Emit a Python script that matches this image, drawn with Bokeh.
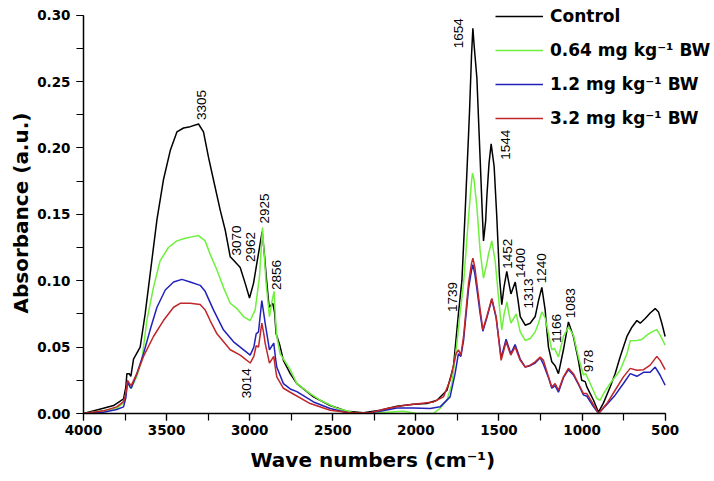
from math import pi
from bokeh.plotting import figure
from bokeh.models import Range1d, NumeralTickFormatter, FixedTicker, Legend, LegendItem, Title
from bokeh.core.properties import value
from bokeh.embed import file_html
from bokeh.resources import INLINE

# ---------------- data ----------------
control_wn = [4000, 3880, 3819, 3759, 3745, 3739, 3725, 3715, 3699, 3659, 3629, 3599, 3558, 3519,
              3478, 3438, 3398, 3358, 3308, 3278, 3248, 3218, 3177, 3147, 3117, 3087, 3057, 3027,
              3001, 2977, 2957, 2937, 2925, 2910, 2901, 2883, 2861, 2850, 2841, 2820, 2797, 2756,
              2716, 2616, 2516, 2415, 2315, 2215, 2114, 2014, 1934, 1873, 1813, 1774, 1744, 1723,
              1703, 1683, 1677, 1665, 1657, 1648, 1633, 1613, 1600, 1593, 1580, 1573, 1560, 1547,
              1529, 1513, 1497, 1483, 1470, 1453, 1440, 1428, 1402, 1385, 1372, 1342, 1312, 1282,
              1262, 1242, 1222, 1212, 1202, 1182, 1162, 1142, 1112, 1082, 1052, 1022, 1002, 981,
              971, 951, 931, 901, 871, 831, 801, 771, 730, 700, 670, 650, 620, 590, 560, 540, 520, 500]
control_abs = [0.000, 0.004, 0.006, 0.011, 0.020, 0.030, 0.030, 0.028, 0.041, 0.050, 0.075, 0.105, 0.146, 0.176,
               0.198, 0.212, 0.215, 0.216, 0.218, 0.212, 0.193, 0.176, 0.153, 0.138, 0.118, 0.114, 0.110, 0.098,
               0.087, 0.098, 0.113, 0.128, 0.137, 0.118, 0.104, 0.080, 0.083, 0.076, 0.060, 0.052, 0.040, 0.030,
               0.0225, 0.0125, 0.006, 0.0017, 0.0005, 0.0025, 0.0055, 0.007, 0.0075, 0.010, 0.0175, 0.035, 0.075, 0.100,
               0.153, 0.210, 0.228, 0.270, 0.290, 0.275, 0.253, 0.191, 0.150, 0.130, 0.145, 0.163, 0.188, 0.203,
               0.186, 0.148, 0.103, 0.082, 0.095, 0.107, 0.098, 0.090, 0.099, 0.085, 0.073, 0.0665, 0.068, 0.073,
               0.085, 0.095, 0.078, 0.063, 0.050, 0.039, 0.036, 0.030, 0.048, 0.069, 0.058, 0.040, 0.025, 0.024,
               0.020, 0.015, 0.010, 0.001, 0.008, 0.020, 0.030, 0.0425, 0.058, 0.065, 0.070, 0.068, 0.0715, 0.0757, 0.079, 0.0765, 0.068, 0.058]

low_wn = [4000, 3880, 3800, 3759, 3745, 3735, 3720, 3713, 3679, 3649, 3619, 3579, 3539, 3489,
          3438, 3388, 3348, 3308, 3268, 3238, 3197, 3158, 3117, 3077, 3037, 2997, 2967, 2941,
          2923, 2910, 2901, 2881, 2865, 2853, 2845, 2837, 2817, 2756, 2716, 2636, 2576, 2475,
          2375, 2275, 2174, 2074, 1994, 1894, 1854, 1813, 1783, 1753, 1737, 1713, 1683, 1665,
          1659, 1650, 1633, 1613, 1593, 1573, 1563, 1543, 1523, 1497, 1483, 1469, 1452, 1440,
          1428, 1396, 1372, 1342, 1312, 1282, 1262, 1242, 1222, 1212, 1182, 1166, 1142, 1112,
          1082, 1052, 1022, 992, 978, 951, 911, 891, 871, 831, 771, 730, 710, 670, 640, 610,
          580, 550, 530, 500]
low_abs = [0.000, 0.002, 0.004, 0.008, 0.015, 0.023, 0.020, 0.019, 0.028, 0.040, 0.070, 0.095, 0.115, 0.125,
           0.130, 0.132, 0.133, 0.134, 0.130, 0.120, 0.108, 0.095, 0.083, 0.079, 0.073, 0.070, 0.078, 0.103,
           0.140, 0.115, 0.098, 0.073, 0.085, 0.092, 0.072, 0.058, 0.045, 0.033, 0.0225, 0.015, 0.010, 0.004,
           0.0005, 0.000, 0.001, 0.0017, 0.000, 0.000, 0.004, 0.010, 0.0225, 0.053, 0.072, 0.098, 0.148, 0.175,
           0.181, 0.176, 0.156, 0.122, 0.102, 0.113, 0.120, 0.130, 0.115, 0.080, 0.063, 0.075, 0.084, 0.075,
           0.068, 0.075, 0.0615, 0.055, 0.0565, 0.0615, 0.068, 0.0765, 0.072, 0.066, 0.048, 0.049, 0.0426, 0.058,
           0.065, 0.059, 0.0426, 0.029, 0.030, 0.0226, 0.0113, 0.010, 0.015, 0.0226, 0.0326, 0.045, 0.0547, 0.055, 0.0557, 0.059,
           0.0615, 0.0632, 0.059, 0.0514]

mid_wn = [4000, 3880, 3800, 3759, 3745, 3735, 3720, 3713, 3679, 3639, 3599, 3558, 3508, 3458,
          3408, 3358, 3298, 3268, 3218, 3158, 3097, 3057, 2997, 2975, 2961, 2947, 2927, 2915,
          2907, 2881, 2855, 2845, 2837, 2797, 2756, 2716, 2616, 2516, 2415, 2315, 2215, 2114,
          2014, 1914, 1854, 1794, 1764, 1744, 1729, 1713, 1683, 1665, 1657, 1645, 1633, 1613,
          1597, 1573, 1543, 1517, 1487, 1457, 1429, 1403, 1372, 1342, 1312, 1282, 1252, 1232,
          1202, 1182, 1162, 1142, 1112, 1082, 1052, 1022, 992, 971, 941, 901, 851, 801, 751,
          710, 670, 630, 590, 560, 530, 500]
mid_abs = [0.000, 0.001, 0.003, 0.005, 0.012, 0.024, 0.020, 0.019, 0.030, 0.045, 0.063, 0.080, 0.093, 0.099,
           0.101, 0.099, 0.0965, 0.092, 0.078, 0.063, 0.054, 0.050, 0.044, 0.050, 0.060, 0.0615, 0.085, 0.075,
           0.068, 0.048, 0.053, 0.042, 0.035, 0.0225, 0.0185, 0.0165, 0.0087, 0.0038, 0.0008, 0.000, 0.0017, 0.0042,
           0.0042, 0.0038, 0.005, 0.0125, 0.030, 0.045, 0.043, 0.055, 0.094, 0.108, 0.112, 0.105, 0.094, 0.075,
           0.062, 0.072, 0.086, 0.072, 0.042, 0.056, 0.045, 0.052, 0.041, 0.035, 0.036, 0.038, 0.042, 0.037,
           0.027, 0.019, 0.021, 0.016, 0.027, 0.033, 0.029, 0.022, 0.014, 0.013, 0.007, 0.000, 0.0067, 0.0138, 0.0226,
           0.030, 0.028, 0.031, 0.031, 0.035, 0.0288, 0.0213]

high_wn = [4000, 3880, 3800, 3759, 3745, 3735, 3720, 3713, 3679, 3639, 3579, 3519, 3458, 3418,
           3358, 3298, 3268, 3238, 3197, 3117, 3057, 2997, 2975, 2961, 2947, 2927, 2915, 2907,
           2881, 2855, 2845, 2837, 2797, 2756, 2636, 2516, 2395, 2275, 2174, 2074, 1974, 1894,
           1834, 1794, 1758, 1744, 1729, 1713, 1683, 1665, 1657, 1645, 1633, 1613, 1597, 1573,
           1543, 1517, 1487, 1457, 1429, 1403, 1372, 1342, 1312, 1282, 1252, 1232, 1202, 1182,
           1162, 1142, 1112, 1082, 1052, 1022, 992, 971, 941, 901, 851, 801, 751, 710, 670, 630,
           590, 550, 530, 500]
high_abs = [0.000, 0.002, 0.005, 0.009, 0.015, 0.025, 0.022, 0.021, 0.030, 0.043, 0.058, 0.070, 0.080, 0.083,
            0.083, 0.082, 0.078, 0.070, 0.060, 0.048, 0.044, 0.038, 0.043, 0.051, 0.050, 0.068, 0.060, 0.053,
            0.038, 0.043, 0.034, 0.0275, 0.019, 0.016, 0.0075, 0.0025, 0.0005, 0.0005, 0.0038, 0.006, 0.0075, 0.0087,
            0.0125, 0.025, 0.045, 0.048, 0.044, 0.058, 0.098, 0.113, 0.117, 0.110, 0.098, 0.078, 0.063, 0.073,
            0.0866, 0.073, 0.040, 0.054, 0.044, 0.050, 0.040, 0.035, 0.0364, 0.0389, 0.0426, 0.040, 0.0276, 0.020,
            0.0226, 0.0175, 0.0276, 0.034, 0.030, 0.0226, 0.015, 0.015, 0.0087, 0.000, 0.0075, 0.0175, 0.0276, 0.034, 0.0326, 0.033,
            0.0364, 0.043, 0.040, 0.033]

series_names = ["Control", "0.64 mg kg\u207b\u00b9 BW", "1.2 mg kg\u207b\u00b9 BW", "3.2 mg kg\u207b\u00b9 BW"]
series_colors = ["#000000", "#6ef03c", "#2222bb", "#c0262a"]

peak_labels = ["3305", "3070", "2962", "2925", "2856", "3014", "1739", "1654",
               "1544", "1452", "1400", "1313", "1240", "1166", "1083", "978"]
peak_label_x = [3292, 3081, 2993, 2913, 2838, 3018, 1780, 1746,
                1463, 1451, 1373, 1325, 1242, 1156, 1072, 961]
peak_label_y = [0.221, 0.119, 0.114, 0.143, 0.093, 0.0115, 0.0765, 0.275,
                0.191, 0.109, 0.102, 0.079, 0.098, 0.053, 0.0718, 0.031]

x_ticks = [4000, 3500, 3000, 2500, 2000, 1500, 1000, 500]
y_ticks = [0.00, 0.05, 0.10, 0.15, 0.20, 0.25, 0.30]

# ---------------- figure ----------------
# The frame is extended to the right/top edge so the legend is not clipped;
# the axes are bounded to the data region like the reference.
p = figure(width=714, height=481, output_backend="svg", toolbar_location=None,
           x_range=Range1d(4000, 203), y_range=Range1d(0, 0.311),
           min_border_left=83, min_border_right=0, min_border_top=0, min_border_bottom=68)
p.outline_line_color = None
p.grid.visible = False

x_minor = [t - 250 for t in x_ticks[:-1]] + x_ticks
y_minor = [round(t + 0.025, 3) for t in y_ticks[:-1]] + y_ticks
p.xaxis.ticker = FixedTicker(ticks=x_ticks, minor_ticks=x_minor)
p.yaxis.ticker = FixedTicker(ticks=y_ticks, minor_ticks=y_minor)
p.yaxis.formatter = NumeralTickFormatter(format="0.00")
p.xaxis.bounds = (500, 4000)
p.yaxis.bounds = (0, 0.30)

for ax in (p.xaxis[0], p.yaxis[0]):
    ax.axis_line_width = 1.5
    ax.axis_line_color = "black"
    ax.major_tick_line_color = "black"
    ax.minor_tick_line_color = "black"
    ax.major_tick_line_width = 1.2
    ax.minor_tick_line_width = 1.2
    ax.major_tick_in = 0
    ax.minor_tick_in = 0
    ax.major_tick_out = 7
    ax.minor_tick_out = 7
    ax.major_label_text_font = "DejaVu Sans"
    ax.major_label_text_font_style = "bold"
    ax.major_label_text_font_size = "13.5px"
    ax.major_label_text_color = "black"

p.xaxis.major_label_standoff = 4
p.yaxis.major_label_standoff = 6

# axis titles centred on the bounded axes, as in the reference
p.add_layout(Title(text="Wave numbers (cm\u207b\u00b9)", align="left", offset=167,
                   text_font="DejaVu Sans", text_font_style="bold", text_font_size="20px",
                   text_color="black", standoff=17), "below")
p.add_layout(Title(text="Absorbance (a.u.)", align="left", offset=100, vertical_align="bottom",
                   text_font="DejaVu Sans", text_font_style="bold", text_font_size="20px",
                   text_color="black", standoff=4), "left")

renderers = []
for wn, ab, col in [(control_wn, control_abs, series_colors[0]),
                    (low_wn, low_abs, series_colors[1]),
                    (mid_wn, mid_abs, series_colors[2]),
                    (high_wn, high_abs, series_colors[3])]:
    r = p.line(wn, ab, line_color=col, line_width=1.5)
    renderers.append(r)

p.text(x=peak_label_x, y=peak_label_y, text=peak_labels, angle=pi / 2,
       text_align="left", text_baseline="middle",
       text_font=value("Liberation Sans"), text_font_size="13.5px", text_color="black")

legend = Legend(items=[LegendItem(label=n, renderers=[r]) for n, r in zip(series_names, renderers)],
                location=(412, 285), orientation="vertical",
                label_text_font="DejaVu Sans", label_text_font_style="bold",
                label_text_font_size="17px", label_text_color="black",
                glyph_width=48, glyph_height=20, label_height=20, spacing=14,
                padding=0, margin=0, label_standoff=7,
                border_line_color=None, background_fill_alpha=0)
p.add_layout(legend)

open("out.html", "w").write(file_html(p, INLINE))
